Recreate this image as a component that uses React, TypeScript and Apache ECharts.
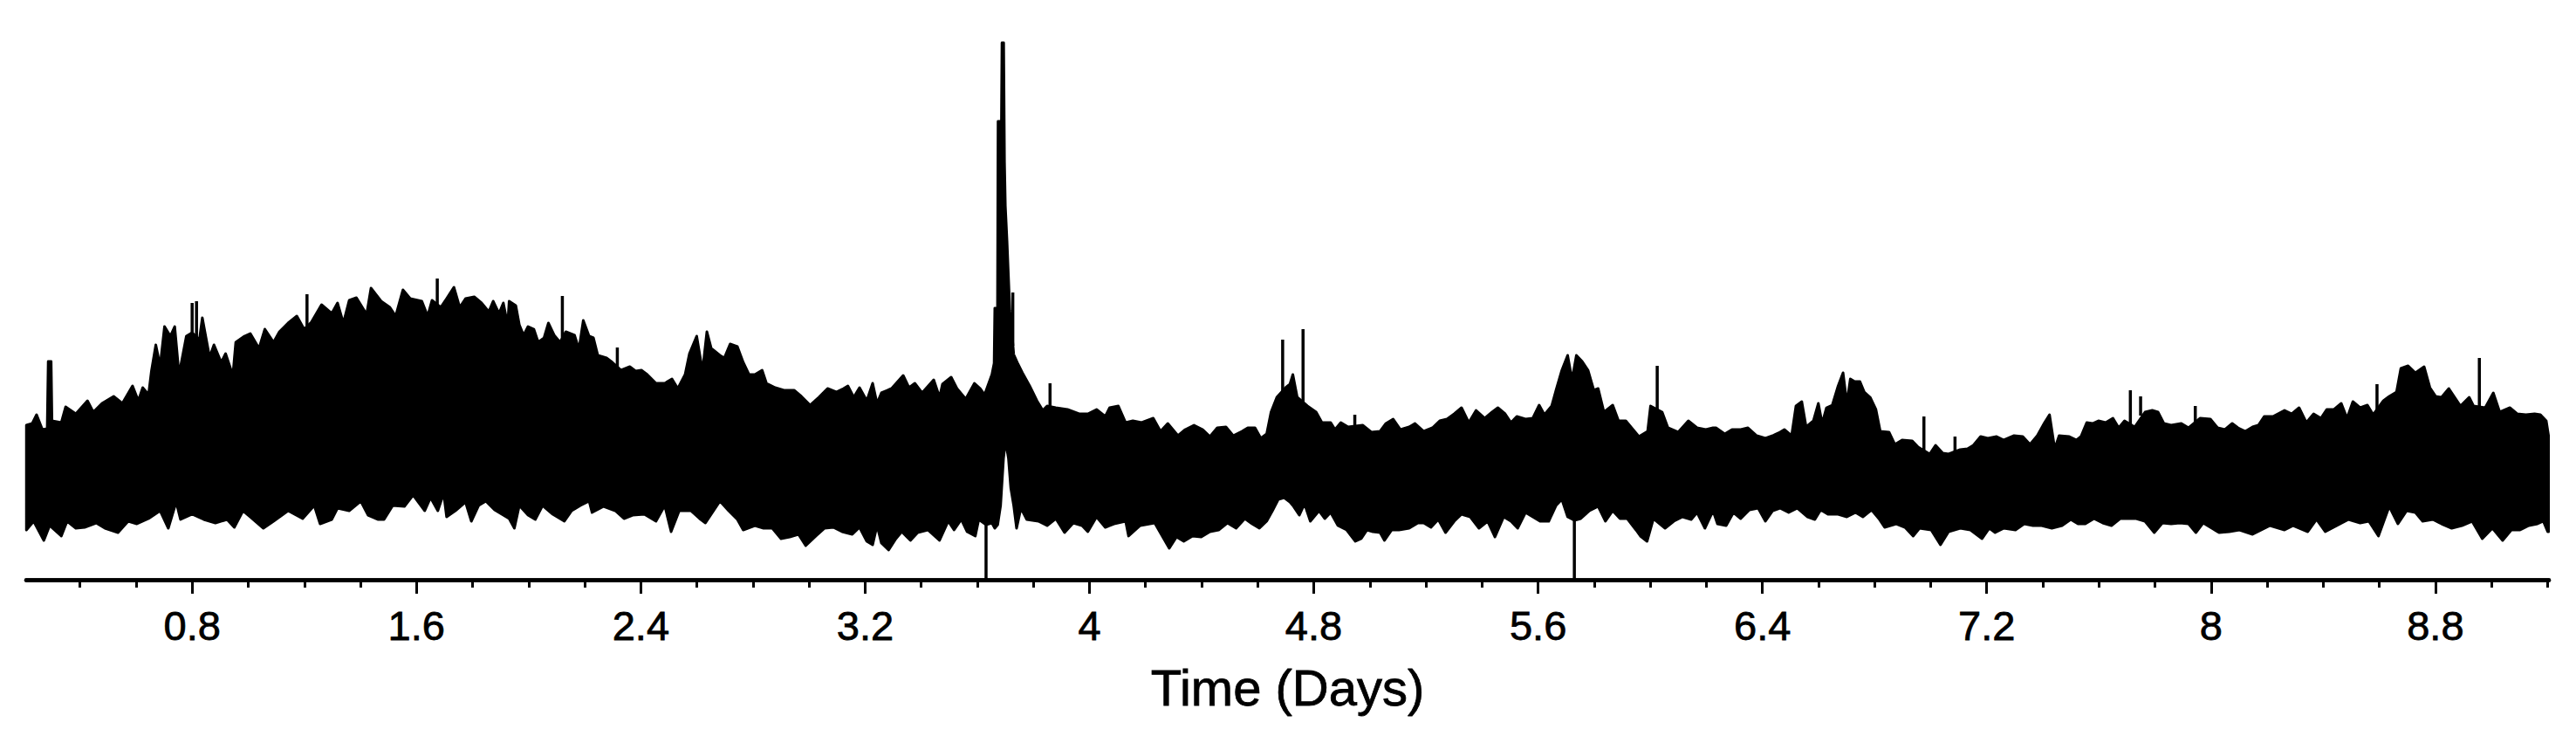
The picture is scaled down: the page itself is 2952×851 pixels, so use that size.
import React, { useEffect, useRef } from "react";
import * as echarts from "echarts";

// Upper envelope of the signal: [day, amplitude]
const upperEnvelope: [number, number][] = [
  [0.2088, 169], [0.2296, 171], [0.2451, 181], [0.2658, 164], [0.283, 165], [0.2866, 242], [0.297, 242], [0.3, 174],
  [0.3333, 172], [0.3488, 190], [0.3851, 182], [0.4266, 197], [0.4473, 184], [0.4784, 194], [0.5199, 202], [0.551, 194],
  [0.5873, 214], [0.608, 197], [0.6236, 212], [0.6444, 204], [0.6547, 231], [0.6703, 261], [0.6858, 237], [0.7014, 282],
  [0.7221, 271], [0.7377, 282], [0.7532, 227], [0.7792, 271], [0.7999, 275], [0.8258, 267], [0.8362, 292], [0.8621, 247],
  [0.8777, 261], [0.9036, 241], [0.9192, 251], [0.9451, 226], [0.9555, 264], [0.9866, 271], [1.0073, 274], [1.0384, 257],
  [1.0592, 279], [1.0903, 264], [1.111, 276], [1.1421, 286], [1.1732, 294], [1.1991, 279], [1.225, 287], [1.2613, 307],
  [1.2977, 297], [1.3184, 309], [1.3391, 286], [1.3599, 312], [1.3858, 315], [1.4221, 296], [1.4377, 326], [1.4739, 311],
  [1.5051, 304], [1.5258, 294], [1.5517, 324], [1.5777, 314], [1.6191, 311], [1.6399, 294], [1.6554, 312], [1.6865, 304],
  [1.7074, 314], [1.7334, 327], [1.7541, 304], [1.7748, 314], [1.806, 316], [1.8319, 309], [1.8578, 299], [1.8734, 311],
  [1.8941, 297], [1.9097, 309], [1.9252, 284], [1.9304, 311], [1.9542, 306], [1.9667, 284], [1.9822, 272], [1.9978, 282],
  [2.0185, 279], [2.0341, 264], [2.0548, 269], [2.0704, 286], [2.0911, 272], [2.1119, 264], [2.1326, 276], [2.1637, 272],
  [2.1793, 256], [2.1948, 289], [2.2156, 271], [2.2311, 269], [2.2467, 249], [2.2778, 246], [2.2985, 241], [2.3297, 232],
  [2.3608, 236], [2.3815, 231], [2.4022, 232], [2.423, 227], [2.4541, 217], [2.4852, 217], [2.5111, 222], [2.5319, 211],
  [2.5578, 227], [2.5734, 251], [2.5993, 271], [2.62, 231], [2.6356, 276], [2.6511, 257], [2.6822, 249], [2.6978, 246],
  [2.7185, 262], [2.7444, 259], [2.7652, 241], [2.7859, 227], [2.8067, 227], [2.8326, 232], [2.8481, 217], [2.8793, 212],
  [2.9104, 209], [2.9467, 209], [2.9726, 202], [3.0037, 192], [3.0348, 201], [3.0659, 211], [3.097, 207], [3.123, 211],
  [3.1385, 214], [3.1593, 201], [3.18, 212], [3.2059, 197], [3.2268, 217], [3.2424, 194], [3.2579, 206], [3.2942, 211],
  [3.3357, 226], [3.3564, 212], [3.3772, 217], [3.4031, 206], [3.4446, 221], [3.4653, 201], [3.4757, 216], [3.5068, 224],
  [3.5275, 211], [3.5587, 199], [3.5898, 217], [3.6105, 211], [3.626, 204], [3.652, 227], [3.66, 240], [3.6624, 303],
  [3.672, 303], [3.674, 517], [3.686, 517], [3.688, 607], [3.694, 607], [3.697, 470], [3.7, 420], [3.706, 380],
  [3.711, 340], [3.716, 300], [3.722, 280], [3.73, 250], [3.7453, 239], [3.7609, 229], [3.7868, 214], [3.8127, 197],
  [3.8335, 186], [3.849, 191], [3.8801, 189], [3.9216, 187], [3.963, 182], [3.9942, 182], [4.0253, 187], [4.0564, 179],
  [4.072, 189], [4.1031, 191], [4.129, 172], [4.1549, 174], [4.186, 172], [4.2275, 177], [4.2534, 162], [4.2793, 171],
  [4.3157, 157], [4.3416, 164], [4.3727, 169], [4.4038, 164], [4.4297, 156], [4.4557, 166], [4.4868, 167], [4.5127, 157],
  [4.5438, 162], [4.5646, 166], [4.5904, 166], [4.6112, 154], [4.6319, 159], [4.6475, 184], [4.6682, 201], [4.6994, 212],
  [4.7149, 216], [4.7254, 227], [4.741, 201], [4.7773, 191], [4.8084, 184], [4.8291, 172], [4.8603, 172], [4.8758, 164],
  [4.8965, 172], [4.9225, 167], [4.9743, 169], [5.0054, 161], [5.0365, 162], [5.0573, 171], [5.0832, 176], [5.1091, 164],
  [5.1402, 167], [5.161, 171], [5.1921, 162], [5.2232, 166], [5.2491, 174], [5.2751, 176], [5.301, 182], [5.3269, 189],
  [5.3528, 172], [5.3788, 186], [5.4099, 177], [5.4358, 184], [5.4565, 189], [5.4825, 182], [5.5032, 172], [5.524, 179],
  [5.5551, 176], [5.581, 177], [5.6038, 192], [5.6225, 181], [5.6484, 191], [5.6639, 209], [5.6847, 232], [5.7054, 249],
  [5.721, 221], [5.7365, 249], [5.7573, 242], [5.778, 232], [5.7987, 209], [5.8143, 211], [5.835, 184], [5.8661, 192],
  [5.8869, 174], [5.9128, 174], [5.9387, 164], [5.9595, 156], [5.9906, 162], [6.001, 191], [6.0424, 184], [6.0632, 166],
  [6.0995, 161], [6.1358, 174], [6.1669, 166], [6.198, 164], [6.2239, 166], [6.2344, 166], [6.2656, 159], [6.2915, 164],
  [6.3226, 164], [6.3485, 166], [6.3796, 157], [6.4107, 154], [6.4367, 157], [6.4626, 161], [6.4781, 164], [6.504, 157],
  [6.5196, 191], [6.5404, 196], [6.5559, 167], [6.5818, 174], [6.5995, 194], [6.613, 171], [6.6285, 189], [6.6492, 192],
  [6.67, 214], [6.6876, 229], [6.7011, 194], [6.7135, 222], [6.7291, 219], [6.7478, 219], [6.7633, 207], [6.7841, 201],
  [6.8048, 187], [6.8203, 162], [6.8515, 161], [6.8722, 147], [6.8981, 152], [6.9344, 151], [6.9552, 144], [6.9966, 136],
  [7.0174, 146], [7.0433, 137], [7.064, 136], [7.1055, 141], [7.1314, 142], [7.1522, 146], [7.1781, 156], [7.204, 154],
  [7.2351, 156], [7.261, 152], [7.2974, 157], [7.3285, 156], [7.3544, 147], [7.3803, 157], [7.4063, 172], [7.4239, 181],
  [7.4425, 142], [7.4581, 157], [7.4944, 156], [7.5203, 152], [7.5359, 156], [7.5566, 172], [7.5774, 171], [7.5981, 174],
  [7.624, 172], [7.65, 177], [7.6707, 166], [7.6914, 174], [7.7277, 167], [7.7643, 184], [7.7902, 186], [7.8109, 184],
  [7.8317, 171], [7.8576, 169], [7.8939, 171], [7.9198, 166], [7.9613, 177], [7.9976, 176], [8.0235, 166], [8.0495, 164],
  [8.0754, 171], [8.0961, 166], [8.1221, 162], [8.148, 167], [8.1687, 169], [8.1895, 179], [8.2206, 179], [8.262, 186],
  [8.2879, 182], [8.3139, 189], [8.3398, 172], [8.3657, 182], [8.3917, 177], [8.4124, 187], [8.4383, 187], [8.4643, 194],
  [8.485, 177], [8.5057, 196], [8.5317, 189], [8.5576, 192], [8.5783, 181], [8.6146, 197], [8.6354, 202], [8.6613, 207],
  [8.6768, 234], [8.7028, 237], [8.7287, 229], [8.7598, 236], [8.7805, 212], [8.8013, 202], [8.822, 201], [8.8479, 211],
  [8.8687, 201], [8.8894, 191], [8.9205, 201], [8.9361, 191], [8.9776, 189], [9.0066, 206], [9.0294, 184], [9.0657, 189],
  [9.0917, 182], [9.1228, 181], [9.1539, 182], [9.1746, 181], [9.1953, 174], [9.2036, 157],
];

// Lower envelope of the signal: [day, amplitude]
const lowerEnvelope: [number, number][] = [
  [0.2088, 49], [0.2347, 59], [0.271, 37], [0.2918, 54], [0.3333, 42], [0.354, 59], [0.3851, 51], [0.4162, 52],
  [0.4577, 57], [0.4888, 51], [0.5355, 46], [0.5718, 59], [0.6029, 56], [0.6444, 62], [0.6858, 71], [0.7149, 51],
  [0.7429, 81], [0.7584, 61], [0.7999, 67], [0.8414, 61], [0.8829, 57], [0.9244, 61], [0.9503, 52], [0.9814, 71],
  [1.0073, 64], [1.054, 51], [1.0903, 59], [1.1421, 71], [1.194, 62], [1.2354, 77], [1.2562, 56], [1.2977, 61],
  [1.3184, 74], [1.3599, 71], [1.4013, 82], [1.4273, 66], [1.4636, 61], [1.4843, 61], [1.5154, 77], [1.5569, 76],
  [1.588, 89], [1.6295, 71], [1.6502, 86], [1.6761, 71], [1.6969, 91], [1.7074, 64], [1.7386, 71], [1.7748, 81],
  [1.7956, 59], [1.8215, 77], [1.8474, 82], [1.8785, 72], [1.9045, 67], [1.9304, 62], [1.9491, 51], [1.9667, 77],
  [1.9978, 66], [2.0237, 61], [2.0497, 77], [2.086, 67], [2.1274, 59], [2.1534, 71], [2.1845, 77], [2.2156, 82],
  [2.226, 69], [2.2674, 76], [2.3089, 71], [2.34, 62], [2.3711, 66], [2.4126, 67], [2.4541, 59], [2.4852, 77],
  [2.508, 47], [2.537, 71], [2.5785, 71], [2.6096, 62], [2.6304, 57], [2.6822, 82], [2.7133, 71], [2.7444, 61],
  [2.7652, 49], [2.8067, 54], [2.8378, 51], [2.8689, 51], [2.9, 39], [2.9311, 41], [2.9622, 44], [2.9881, 31],
  [3.0244, 42], [3.0556, 51], [3.0867, 52], [3.1178, 47], [3.1541, 44], [3.18, 52], [3.2059, 36], [3.2268, 32],
  [3.2424, 54], [3.2579, 34], [3.2838, 26], [3.3098, 39], [3.3305, 47], [3.3616, 37], [3.3875, 46], [3.4238, 49],
  [3.4653, 37], [3.4964, 59], [3.5172, 49], [3.5431, 61], [3.5638, 47], [3.5929, 42], [3.6053, 61], [3.6312, 55],
  [3.652, 57], [3.6624, 51], [3.6727, 55], [3.6831, 77], [3.6935, 131], [3.7007, 151], [3.7111, 131], [3.7194, 97],
  [3.7298, 77], [3.7401, 51], [3.7557, 74], [3.7764, 61], [3.8179, 59], [3.849, 54], [3.8801, 62], [3.9112, 46],
  [3.9423, 57], [3.9735, 54], [3.9942, 47], [4.0253, 64], [4.0564, 52], [4.0875, 56], [4.129, 59], [4.1394, 42],
  [4.1809, 54], [4.2327, 57], [4.2846, 28], [4.3105, 41], [4.3364, 36], [4.3675, 42], [4.3986, 41], [4.4297, 47],
  [4.4608, 49], [4.4919, 57], [4.523, 51], [4.5542, 62], [4.5801, 56], [4.606, 51], [4.6319, 59], [4.6527, 71],
  [4.6734, 84], [4.6942, 86], [4.7149, 81], [4.7254, 77], [4.7483, 66], [4.7669, 79], [4.7877, 59], [4.8188, 71],
  [4.8395, 62], [4.8603, 69], [4.8862, 54], [4.9173, 49], [4.9484, 36], [4.9691, 39], [4.9899, 49], [5.0106, 47],
  [5.0365, 46], [5.0521, 37], [5.078, 49], [5.1039, 49], [5.1402, 51], [5.1714, 57], [5.1921, 57], [5.218, 52],
  [5.244, 61], [5.2699, 46], [5.301, 59], [5.3269, 67], [5.358, 64], [5.3891, 51], [5.4202, 59], [5.4462, 41],
  [5.4773, 64], [5.5032, 59], [5.5271, 51], [5.5551, 69], [5.581, 64], [5.6069, 59], [5.638, 59], [5.6639, 77],
  [5.6847, 84], [5.7054, 64], [5.7293, 60], [5.7521, 62], [5.7832, 71], [5.8143, 76], [5.8402, 59], [5.8661, 71],
  [5.8921, 62], [5.918, 62], [5.9491, 49], [5.9647, 42], [5.9885, 36], [6.0113, 62], [6.0528, 51], [6.0839, 59],
  [6.115, 64], [6.1461, 61], [6.1669, 69], [6.1949, 51], [6.2239, 71], [6.2396, 56], [6.2707, 54], [6.2967, 69],
  [6.3226, 62], [6.3537, 72], [6.3848, 74], [6.4107, 59], [6.4367, 71], [6.4626, 74], [6.4937, 69], [6.5248, 74],
  [6.5611, 64], [6.587, 61], [6.6078, 72], [6.6337, 67], [6.67, 67], [6.7011, 64], [6.7322, 69], [6.7581, 64],
  [6.7892, 72], [6.8152, 62], [6.8359, 52], [6.8774, 56], [6.9085, 52], [6.9375, 42], [6.9603, 51], [7.0018, 49],
  [7.035, 32], [7.064, 47], [7.1055, 51], [7.1418, 49], [7.1833, 39], [7.2092, 51], [7.23, 46], [7.261, 51],
  [7.3025, 49], [7.3336, 56], [7.3648, 54], [7.3959, 54], [7.4322, 51], [7.4685, 54], [7.4996, 61], [7.5255, 56],
  [7.5514, 56], [7.5825, 62], [7.6136, 57], [7.6448, 54], [7.6759, 62], [7.707, 62], [7.7329, 62], [7.7643, 59],
  [7.7975, 46], [7.8265, 57], [7.8576, 56], [7.8887, 57], [7.9198, 56], [7.9458, 46], [7.9717, 57], [8.0028, 51],
  [8.0287, 46], [8.065, 47], [8.1013, 49], [8.148, 44], [8.1791, 49], [8.2102, 54], [8.262, 49], [8.2931, 54],
  [8.345, 47], [8.3761, 61], [8.4072, 47], [8.4487, 54], [8.4902, 61], [8.5317, 57], [8.5628, 59], [8.597, 42],
  [8.6354, 76], [8.6665, 56], [8.6976, 71], [8.7287, 69], [8.7546, 59], [8.7909, 61], [8.822, 56], [8.8583, 51],
  [8.8946, 54], [8.9309, 59], [8.9672, 39], [9.0035, 51], [9.0398, 37], [9.0709, 49], [9.102, 49], [9.1331, 54],
  [9.1642, 56], [9.185, 59], [9.2005, 47], [9.2036, 47],
];

// Isolated narrow spikes: [day, from, to]
const spikes: [number, number, number][] = [
  [0.7999, 270, 309], [0.8155, 270, 311], [1.2095, 280, 319], [1.6741, 300, 337], [2.1202, 265, 317],
  [2.3162, 235, 258], [3.7266, 260, 321], [3.8594, 185, 217], [4.689, 190, 267], [4.7617, 190, 279],
  [4.9463, 165, 181], [6.0248, 170, 237], [6.9759, 140, 179], [7.0868, 136, 156], [7.7122, 170, 209],
  [7.7487, 180, 202], [7.9437, 170, 191], [8.5918, 185, 216], [8.9568, 190, 246],
  [3.6312, 55, -8], [5.7293, 60, -8],
];

const majorTicks = [0.8, 1.6, 2.4, 3.2, 4, 4.8, 5.6, 6.4, 7.2, 8, 8.8];
const minorTicks = [
  0.4, 0.6, 0.8, 1.0, 1.2, 1.4, 1.6, 1.8, 2.0, 2.2, 2.4, 2.6, 2.8, 3.0, 3.2, 3.4,
  3.6, 3.8, 4.0, 4.2, 4.4, 4.6, 4.8, 5.0, 5.2, 5.4, 5.6, 5.8, 6.0, 6.2, 6.4, 6.6,
  6.8, 7.0, 7.2, 7.4, 7.6, 7.8, 8.0, 8.2, 8.4, 8.6, 8.8, 9.0, 9.2,
];

const X_MIN = 0.208;
const X_MAX = 9.205;
const Y_MIN = -8;
const Y_MAX = 620;
const FONT = "'Liberation Sans', Arial, Helvetica, sans-serif";

export default function App() {
  const ref = useRef<HTMLDivElement>(null);
  useEffect(() => {
    if (!ref.current) return;
    const chart = echarts.init(ref.current, undefined, { renderer: "svg" });
    const axisLineStyle = { color: "#000", width: 4.5, opacity: 1 };
    chart.setOption({
      animation: false,
      backgroundColor: "#fff",
      grid: { left: 30, right: 31, top: 36, bottom: 187, containLabel: false, outerBoundsMode: "none" },
      xAxis: [
        {
          type: "value",
          min: X_MIN,
          max: X_MAX,
          position: "bottom",
          z: 10,
          axisLine: { show: true, onZero: false, lineStyle: axisLineStyle },
          axisTick: { show: true, customValues: minorTicks, length: 9, lineStyle: { color: "#000", width: 3 } },
          axisLabel: {
            show: true,
            customValues: majorTicks,
            color: "#000",
            fontSize: 47,
            fontFamily: FONT,
            margin: 29,
            textBorderColor: "#000",
            textBorderWidth: 0.8,
          },
          splitLine: { show: false },
          name: "Time (Days)",
          nameLocation: "middle",
          nameGap: 94,
          nameTextStyle: {
            color: "#000",
            fontSize: 58,
            fontFamily: FONT,
            textBorderColor: "#000",
            textBorderWidth: 0.8,
          },
        },
        {
          type: "value",
          min: X_MIN,
          max: X_MAX,
          position: "bottom",
          z: 10,
          axisLine: { show: true, onZero: false, lineStyle: axisLineStyle },
          axisTick: { show: true, customValues: majorTicks, length: 16, lineStyle: { color: "#000", width: 3 } },
          axisLabel: { show: false },
          splitLine: { show: false },
        },
      ],
      yAxis: { type: "value", min: Y_MIN, max: Y_MAX, show: false, splitLine: { show: false } },
      series: [
        {
          type: "custom",
          name: "signal",
          coordinateSystem: "cartesian2d",
          z: 2,
          data: [[X_MIN, 0]],
          renderItem: (_params: any, api: any) => {
            const pts = upperEnvelope
              .map((p) => api.coord(p))
              .concat(lowerEnvelope.slice().reverse().map((p) => api.coord(p)));
            return {
              type: "polygon",
              shape: { points: pts },
              style: { fill: "#000", stroke: "#000", lineWidth: 3, lineJoin: "round" },
            };
          },
        },
        {
          type: "custom",
          name: "spikes",
          z: 4,
          data: spikes,
          encode: { x: 0, y: [1, 2] },
          renderItem: (_params: any, api: any) => {
            const x = api.value(0);
            const p1 = api.coord([x, api.value(1)]);
            const p2 = api.coord([x, api.value(2)]);
            return {
              type: "line",
              shape: { x1: p1[0], y1: p1[1], x2: p2[0], y2: p2[1] },
              style: { stroke: "#000", lineWidth: 3.5 },
            };
          },
        },
      ],
    });
    return () => chart.dispose();
  }, []);
  return (
    <div
      ref={ref}
      style={{ position: "fixed", left: 0, top: 0, width: 2952, height: 851, background: "#fff" }}
    />
  );
}
